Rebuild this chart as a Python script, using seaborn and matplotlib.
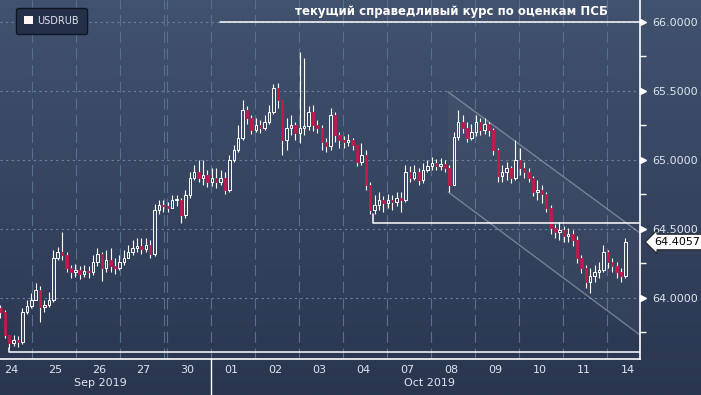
import numpy as np
import pandas as pd
import seaborn as sns
import matplotlib.pyplot as plt
from matplotlib.patches import Patch, Polygon
from matplotlib.colors import LinearSegmentedColormap
import matplotlib.transforms as mtransforms

# trading days on the x axis (10 intraday bars per day)
day_labels = ["24", "25", "26", "27", "30", "01", "02", "03", "04", "07", "08", "09", "10", "11", "14"]
month_labels = ["Sep 2019", "Oct 2019"]
month_pos = [2.51, 10.0]

first_open = 63.928
close = [63.899, 63.732, 63.674, 63.696, 63.681, 63.899, 63.942, 63.986, 64.058, 63.935,
         63.949, 63.986, 64.290, 64.333, 64.312, 64.217, 64.188, 64.203, 64.174, 64.196,
         64.188, 64.261, 64.319, 64.217, 64.275, 64.232, 64.217, 64.261, 64.290, 64.333,
         64.362, 64.377, 64.355, 64.384, 64.319, 64.638, 64.674, 64.667, 64.652, 64.710,
         64.710, 64.601, 64.746, 64.870, 64.913, 64.870, 64.891, 64.841, 64.870, 64.841,
         64.870, 64.783, 65.000, 65.072, 65.159, 65.362, 65.304, 65.217, 65.254, 65.232,
         65.275, 65.348, 65.522, 65.435, 65.145, 65.232, 65.254, 65.196, 65.232, 65.246,
         65.348, 65.254, 65.232, 65.130, 65.101, 65.326, 65.181, 65.145, 65.130, 65.145,
         65.109, 64.986, 65.036, 64.819, 64.638, 64.674, 64.710, 64.688, 64.710, 64.696,
         64.725, 64.710, 64.913, 64.870, 64.913, 64.855, 64.928, 64.957, 64.978, 64.957,
         64.971, 64.942, 64.819, 65.167, 65.275, 65.232, 65.159, 65.203, 65.275, 65.217,
         65.261, 65.217, 65.072, 64.884, 64.913, 64.942, 64.870, 65.000, 64.942, 64.913,
         64.870, 64.768, 64.783, 64.754, 64.652, 64.507, 64.478, 64.493, 64.449, 64.464,
         64.420, 64.290, 64.217, 64.116, 64.159, 64.188, 64.203, 64.333, 64.261, 64.232,
         64.188, 64.159, 64.4057]
high = [63.949, 63.913, 63.710, 63.732, 63.725, 63.928, 63.986, 64.036, 64.109, 64.087,
        63.986, 64.043, 64.348, 64.370, 64.478, 64.333, 64.239, 64.246, 64.232, 64.239,
        64.232, 64.312, 64.362, 64.333, 64.348, 64.362, 64.290, 64.312, 64.348, 64.384,
        64.420, 64.435, 64.435, 64.435, 64.420, 64.681, 64.710, 64.710, 64.696, 64.746,
        64.746, 64.725, 64.783, 64.913, 64.964, 65.000, 65.000, 64.928, 64.942, 64.942,
        64.928, 64.913, 65.036, 65.109, 65.254, 65.435, 65.391, 65.326, 65.304, 65.290,
        65.326, 65.399, 65.551, 65.558, 65.435, 65.304, 65.326, 65.275, 65.783, 65.739,
        65.391, 65.399, 65.290, 65.254, 65.159, 65.377, 65.348, 65.203, 65.174, 65.188,
        65.159, 65.109, 65.123, 65.072, 64.841, 64.746, 64.768, 64.739, 64.754, 64.746,
        64.768, 64.768, 64.964, 64.957, 64.964, 64.942, 64.978, 65.000, 65.022, 65.007,
        65.014, 65.000, 64.964, 65.203, 65.362, 65.326, 65.275, 65.261, 65.326, 65.304,
        65.304, 65.275, 65.232, 65.087, 64.964, 64.986, 64.957, 65.145, 65.087, 64.986,
        64.942, 64.884, 64.855, 64.819, 64.768, 64.674, 64.536, 64.551, 64.522, 64.507,
        64.493, 64.449, 64.312, 64.239, 64.217, 64.239, 64.261, 64.384, 64.348, 64.290,
        64.261, 64.217, 64.435]
low = [63.855, 63.710, 63.638, 63.652, 63.645, 63.667, 63.884, 63.928, 64.000, 63.826,
       63.899, 63.935, 63.971, 64.275, 64.275, 64.188, 64.145, 64.152, 64.138, 64.152,
       64.145, 64.167, 64.232, 64.123, 64.188, 64.188, 64.174, 64.203, 64.239, 64.290,
       64.312, 64.333, 64.319, 64.333, 64.290, 64.304, 64.609, 64.623, 64.623, 64.659,
       64.667, 64.543, 64.580, 64.725, 64.855, 64.841, 64.819, 64.804, 64.812, 64.797,
       64.819, 64.754, 64.768, 64.986, 65.058, 65.145, 65.261, 65.188, 65.203, 65.196,
       65.217, 65.261, 65.333, 65.377, 65.036, 65.072, 65.181, 65.145, 65.123, 65.181,
       65.217, 65.210, 65.196, 65.072, 65.058, 65.072, 65.130, 65.087, 65.087, 65.101,
       65.072, 64.957, 64.964, 64.783, 64.609, 64.609, 64.638, 64.623, 64.652, 64.638,
       64.667, 64.623, 64.696, 64.841, 64.855, 64.819, 64.833, 64.913, 64.928, 64.928,
       64.928, 64.913, 64.768, 64.855, 65.145, 65.196, 65.130, 65.145, 65.174, 65.181,
       65.188, 65.174, 65.036, 64.841, 64.841, 64.855, 64.833, 64.855, 64.891, 64.870,
       64.841, 64.739, 64.710, 64.688, 64.623, 64.464, 64.435, 64.420, 64.406, 64.406,
       64.377, 64.254, 64.181, 64.072, 64.036, 64.116, 64.145, 64.188, 64.217, 64.188,
       64.145, 64.116, 64.145]

fair_value = 66.0
fair_text = "текущий справедливый курс по оценкам ПСБ"
support_level = 64.541
floor_level = 63.609
channel_x = [10.42, 14.78]
channel_top = [65.493, 64.471]
channel_bottom = [64.768, 63.732]

df = pd.DataFrame({"close": close, "high": high, "low": low})
df["open"] = [first_open] + close[:-1]
df["x"] = (np.arange(len(df)) + 2) / 10 + 0.05
df["high"] = df[["high", "open", "close"]].max(axis=1)
df["low"] = df[["low", "open", "close"]].min(axis=1)
df["up"] = df["close"] >= df["open"]

sns.set_theme(style="dark", rc={"axes.facecolor": "none", "figure.facecolor": "#323f5a"})
plt.rcParams["font.family"] = ["DejaVu Sans"]

W, H = 701, 395
fig = plt.figure(figsize=(W / 100, H / 100), dpi=100)

# gradient background
bg = fig.add_axes([0, 0, 1, 1], zorder=-10)
grad = np.linspace(0, 1, 256).reshape(-1, 1)
bg_cmap = LinearSegmentedColormap.from_list("bg", ["#41526f", "#2a3650"])
bg.imshow(grad, aspect="auto", cmap=bg_cmap, extent=[0, 1, 0, 1])
bg.set_axis_off()

ax = fig.add_axes([0, 36 / H, 640 / W, 359 / H])
ax.set_facecolor("none")
xmin, xmax = 0.239, 14.78
ymin, ymax = 63.558, 66.159
ax.set_xlim(xmin, xmax)
ax.set_ylim(ymin, ymax)

# grid
for yv in [64.0, 64.5, 65.0, 65.5, 66.0]:
    ax.axhline(yv, color="#6d82a0", lw=0.8, ls=(0, (2, 3)), zorder=1)
vgrid = [0.966, 1.966, 2.966, 3.966, 4.034] + [k + 0.034 for k in range(5, 15)]
for xv in vgrid:
    ax.axvline(xv, color="#587090", lw=0.8, ls=(0, (10, 5)), zorder=1)

# channel
poly = Polygon([(channel_x[0], channel_top[0]), (channel_x[1], channel_top[1]),
                (channel_x[1], channel_bottom[1]), (channel_x[0], channel_bottom[0])],
               closed=True, facecolor="white", alpha=0.03, edgecolor="none", zorder=1)
ax.add_patch(poly)
sns.lineplot(x=channel_x, y=channel_top, ax=ax, color="#a8b3c2", lw=1, alpha=0.55, zorder=2)
sns.lineplot(x=channel_x, y=channel_bottom, ax=ax, color="#a8b3c2", lw=1, alpha=0.55, zorder=2)

# reference lines
ax.plot([5.24, xmax], [fair_value, fair_value], color="white", lw=1.1, zorder=4)
ax.plot([8.716, 8.716, xmax], [64.609, support_level, support_level], color="white", lw=1.1, zorder=4)
ax.plot([0.443, 0.443, xmax], [63.638, floor_level, floor_level], color="white", lw=1.1, zorder=4)

# candles
ax.vlines(df["x"], df["low"], df["high"], color="white", lw=0.8, zorder=3)
body_h = (df["close"] - df["open"]).abs().clip(lower=0.006)
body_b = df[["open", "close"]].min(axis=1)
up = df["up"]
ax.bar(df["x"][up], body_h[up], bottom=body_b[up], width=0.055,
       facecolor="#3a4964", edgecolor="white", linewidth=0.7, zorder=3.5)
ax.bar(df["x"][~up], body_h[~up], bottom=body_b[~up], width=0.055,
       facecolor="#bf1a4b", edgecolor="#bf1a4b", linewidth=0.6, zorder=3.5)

# axes styling
for side in ["left", "top"]:
    ax.spines[side].set_visible(False)
for side in ["right", "bottom"]:
    ax.spines[side].set_color("white")
    ax.spines[side].set_linewidth(1.2)
ax.grid(False)

ax.yaxis.tick_right()
ax.set_yticks([64.0, 64.5, 65.0, 65.5, 66.0])
ax.set_yticklabels([f"{v:.4f}" for v in [64.0, 64.5, 65.0, 65.5, 66.0]])
ax.set_yticks([63.75, 64.25, 64.75, 65.25, 65.75], minor=True)
ax.tick_params(axis="y", which="major", length=0, pad=9, labelsize=8, labelcolor="#dfe5ee")
ax.tick_params(axis="y", which="minor", length=4, width=1, color="white", direction="out", right=True)
ytr = ax.get_yaxis_transform()
off = mtransforms.offset_copy(ytr, fig=fig, x=3, y=0, units="dots")
ax.plot([1.0] * 5, [64.0, 64.5, 65.0, 65.5, 66.0], ls="none", marker=">", ms=4,
        color="white", transform=off, clip_on=False, zorder=5)

ax.set_xticks([k + 0.5 for k in range(len(day_labels))])
ax.set_xticklabels(day_labels)
ax.tick_params(axis="x", length=0, pad=4, labelsize=8, labelcolor="#dfe5ee")
xtr = ax.get_xaxis_transform()
for pos, lab in zip(month_pos, month_labels):
    ax.text(pos, -24 / 359, lab, transform=xtr, ha="center", va="center",
            fontsize=8, color="#dfe5ee")
ax.plot([5.034, 5.034], [0, -36 / 359], transform=xtr, color="white", lw=1, clip_on=False)

# title text above fair value line
ax.text(608 / 640, 1 - 12 / 359, fair_text, transform=ax.transAxes, ha="right", va="center",
        fontsize=8.5, fontweight="bold", color="white")

# last price box
ax.annotate(f"{close[-1]:.4f}", xy=(1.0, close[-1]), xycoords=ytr,
            xytext=(10, 0), textcoords="offset points", ha="left", va="center",
            fontsize=8, color="black",
            bbox=dict(boxstyle="larrow,pad=0.25", fc="white", ec="#222222", lw=0.8),
            annotation_clip=False, zorder=6)

# legend
leg = ax.legend(handles=[Patch(facecolor="#fff5f5", edgecolor="none", label="USDRUB")],
                loc="upper left", bbox_to_anchor=(16 / 640, 1 - 8 / 359), borderaxespad=0,
                frameon=True, fancybox=True, facecolor="#243049", edgecolor="#0d1422",
                fontsize=7, handlelength=0.9, handleheight=0.9, handletextpad=0.5,
                borderpad=0.8)
leg.get_frame().set_alpha(1)
for t in leg.get_texts():
    t.set_color("#dfe5ee")

fig.savefig("out.png", dpi=100)
